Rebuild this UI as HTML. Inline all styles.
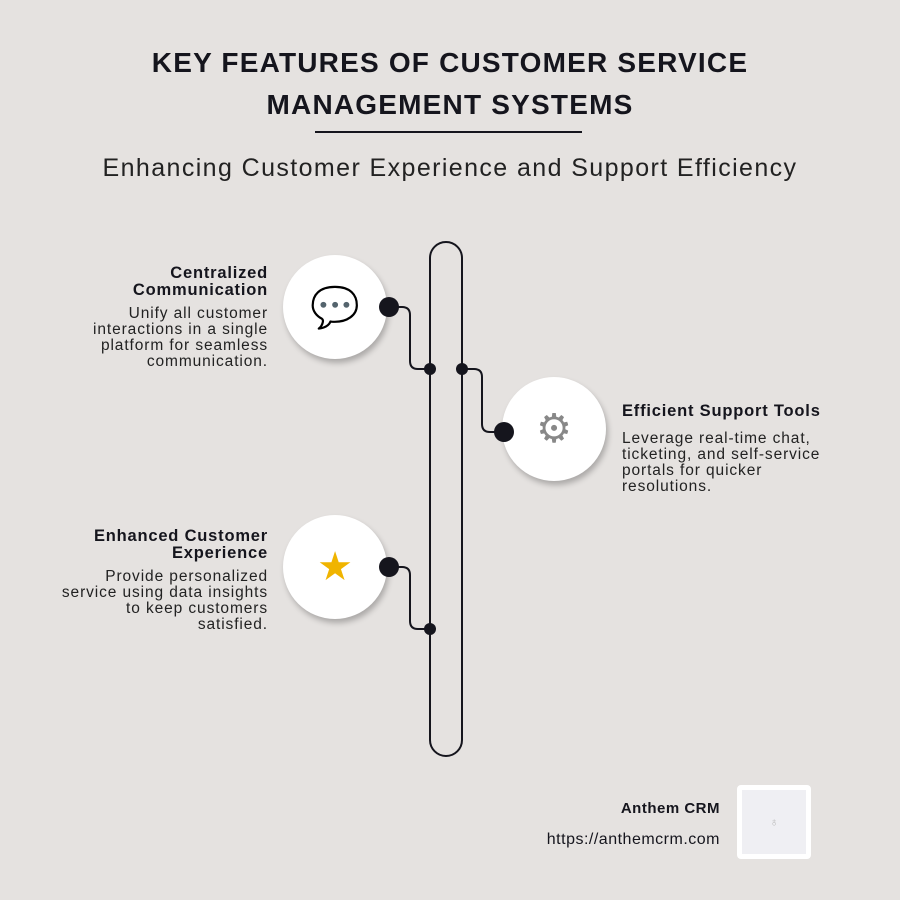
<!DOCTYPE html>
<html><head><style>
body{margin:0;width:900px;height:900px;background:#e5e2e0;font-family:"Liberation Sans",sans-serif;color:#15151d;position:relative;overflow:hidden}
.a{position:absolute}
h1{position:absolute;left:0;width:900px;top:42px;margin:0;text-align:center;font-size:28px;line-height:42px;font-weight:bold;letter-spacing:1.2px}
.t{font-weight:bold;font-size:16.5px;line-height:17px;letter-spacing:0.8px}
.d{font-size:15.5px;line-height:16px;color:#222;letter-spacing:0.9px}
.r{text-align:right}
.c{position:absolute;width:104px;height:104px;border-radius:50%;background:#fff;box-shadow:2px 4px 6px rgba(0,0,0,.25);display:flex;align-items:center;justify-content:center;font-size:40px;font-family:"DejaVu Sans",sans-serif}
</style></head><body>
<h1>KEY FEATURES OF CUSTOMER SERVICE<br>MANAGEMENT SYSTEMS</h1>
<div class="a" style="left:315px;top:131px;width:267px;height:2px;background:#15151d"></div>
<div class="a" style="left:0;width:900px;top:154px;text-align:center;font-size:25px;color:#222;letter-spacing:1.4px">Enhancing Customer Experience and Support Efficiency</div>

<div class="c" style="left:283px;top:255px;color:#777">💬</div>
<div class="c" style="left:502px;top:377px;color:#888">⚙</div>
<div class="c" style="left:283px;top:515px;color:#f0b400">★</div>

<svg class="a" style="left:0;top:0" width="900" height="900">
<g fill="none" stroke="#15151d" stroke-width="2">
<path d="M430 740 V258 A16 16 0 0 1 462 258 V740 A16 16 0 0 1 430 740 Z"/>
<path d="M389 307 H402 Q410 307 410 315 V361 Q410 369 418 369 H430"/>
<path d="M462 369 H474 Q482 369 482 377 V424 Q482 432 490 432 H504"/>
<path d="M389 567 H402 Q410 567 410 575 V621 Q410 629 418 629 H430"/>
</g>
<g fill="#15151d">
<circle cx="389" cy="307" r="10"/><circle cx="430" cy="369" r="6"/>
<circle cx="462" cy="369" r="6"/><circle cx="504" cy="432" r="10"/>
<circle cx="389" cy="567" r="10"/><circle cx="430" cy="629" r="6"/>
</g>
</svg>

<div class="a r" style="right:632px;top:265px;width:260px"><div class="t">Centralized<br>Communication</div>
<div class="d" style="margin-top:7px">Unify all customer<br>interactions in a single<br>platform for seamless<br>communication.</div></div>

<div class="a" style="left:622px;top:403px;width:270px"><div class="t">Efficient Support Tools</div>
<div class="d" style="margin-top:11px">Leverage real-time chat,<br>ticketing, and self-service<br>portals for quicker<br>resolutions.</div></div>

<div class="a r" style="right:632px;top:528px;width:260px"><div class="t">Enhanced Customer<br>Experience</div>
<div class="d" style="margin-top:7px">Provide personalized<br>service using data insights<br>to keep customers<br>satisfied.</div></div>

<div class="a r" style="right:180px;top:800px;font-weight:bold;font-size:15px;letter-spacing:0.5px">Anthem CRM</div>
<div class="a r" style="right:180px;top:831px;font-size:16px;letter-spacing:0.5px">https://anthemcrm.com</div>
<div class="a" style="left:737px;top:785px;width:64px;height:64px;border:5px solid #fff;border-radius:4px;background:#efeff3;text-align:center;line-height:64px;font-size:12px;color:#bbb">♁</div>
</body></html>
